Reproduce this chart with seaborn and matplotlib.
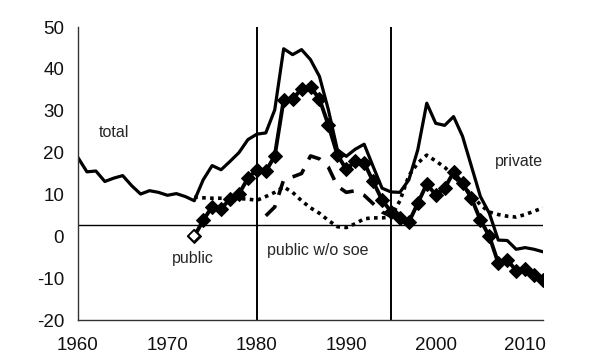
import numpy as np
import pandas as pd
import matplotlib
matplotlib.use('Agg')
import matplotlib.pyplot as plt
import seaborn as sns

# yearly values
years_total = list(range(1960, 2013))
total = [18.8, 15.4, 15.6, 13.1, 13.9, 14.5, 12.1, 10.1, 10.9, 10.5,
         9.8, 10.2, 9.5, 8.5, 13.5, 16.9, 15.9, 17.9, 20.0, 23.1,
         24.4, 24.7, 30.2, 44.8, 43.4, 44.6, 42.2, 38.2, 30.2, 20.7,
         19.1, 20.8, 22.0, 16.7, 11.5, 10.6, 10.5, 13.5, 20.7, 31.8,
         27.0, 26.5, 28.6, 23.9, 16.7, 9.5, 5.5, -0.9, -1.0, -3.1,
         -2.7, -3.1, -3.7]

years_public = list(range(1973, 2013))
public = [0.0, 3.8, 7.1, 6.6, 8.9, 10.1, 13.9, 15.9, 15.5, 19.2,
          32.6, 32.8, 35.2, 35.7, 32.8, 26.6, 19.5, 16.0, 17.9, 17.6,
          13.1, 8.7, 5.9, 4.3, 3.4, 7.9, 12.5, 9.9, 11.5, 15.3,
          12.7, 9.1, 3.9, 0.0, -6.4, -5.6, -8.2, -7.9, -9.2, -10.4]

years_private = list(range(1973, 2013))
private = [9.4, 9.2, 9.1, 9.1, 9.1, 9.0, 8.9, 8.6, 9.5, 10.5,
           11.8, 10.5, 8.5, 6.8, 5.5, 3.8, 2.3, 2.1, 3.0, 4.2,
           4.4, 4.4, 4.6, 8.5, 14.5, 17.5, 19.4, 18.0, 16.5, 14.5,
           12.0, 10.0, 7.5, 5.8, 5.2, 4.8, 4.6, 5.2, 6.0, 6.8]

years_nosoe = list(range(1981, 1996))
public_nosoe = [4.9, 7.0, 13.5, 14.2, 15.0, 19.2, 18.5, 16.5, 12.0, 10.5,
                10.9, 9.8, 7.8, 5.8, 4.8]

ref_years = [1980, 1995]
ref_level = 2.8

sns.set_style('white')
plt.rcParams['font.family'] = ['Liberation Sans', 'DejaVu Sans']
plt.rcParams['axes.unicode_minus'] = False

fig = plt.figure(figsize=(6, 3.6), dpi=100)
ax = fig.add_axes([0.13, 0.111, 0.775, 0.814])

for yr in ref_years:
    ax.axvline(yr, color='black', lw=1.4, zorder=1)
ax.axhline(ref_level, color='black', lw=1.0, zorder=1)

df_total = pd.DataFrame({'year': years_total, 'value': total})
df_public = pd.DataFrame({'year': years_public, 'value': public})
df_private = pd.DataFrame({'year': years_private, 'value': private})
df_nosoe = pd.DataFrame({'year': years_nosoe, 'value': public_nosoe})

sns.lineplot(data=df_total, x='year', y='value', color='black', lw=2.3, ax=ax)
sns.lineplot(data=df_private, x='year', y='value', color='black', lw=2.6,
             ax=ax).lines[-1].set_dashes((1, 1.2))
sns.lineplot(data=df_nosoe, x='year', y='value', color='black', lw=2.6,
             ax=ax).lines[-1].set_dashes((4, 3))
sns.lineplot(data=df_public, x='year', y='value', color='black', lw=2.8,
             marker='D', markersize=7, markeredgecolor='black', ax=ax)
# first public point drawn hollow
ax.plot(years_public[:1], public[:1], marker='D', markersize=6,
        markerfacecolor='white', markeredgecolor='black', mew=1.3, ls='none')

ax.text(1962.3, 24.7, 'total', fontsize=11.5, va='center', ha='left')
ax.text(1970.5, -5.2, 'public', fontsize=11.5, va='center', ha='left')
ax.text(1981.1, -3.3, 'public w/o soe', fontsize=11.5, va='center', ha='left')
ax.text(2006.6, 17.8, 'private', fontsize=11.5, va='center', ha='left')

ax.set_xlim(1960, 2012)
ax.set_ylim(-20, 50)
ax.set_xticks(range(1960, 2011, 10))
ax.set_yticks(range(-20, 51, 10))
ax.set_xlabel('')
ax.set_ylabel('')
for s in ['top', 'right']:
    ax.spines[s].set_visible(False)
for s in ['left', 'bottom']:
    ax.spines[s].set_color('#333333')
    ax.spines[s].set_linewidth(1.0)
ax.tick_params(axis='both', direction='out', length=4, width=0.8,
               color='#333333', labelsize=13.5, labelcolor='#111111', pad=6)
ax.tick_params(axis='x', pad=8)

fig.savefig('out.png', dpi=100)
